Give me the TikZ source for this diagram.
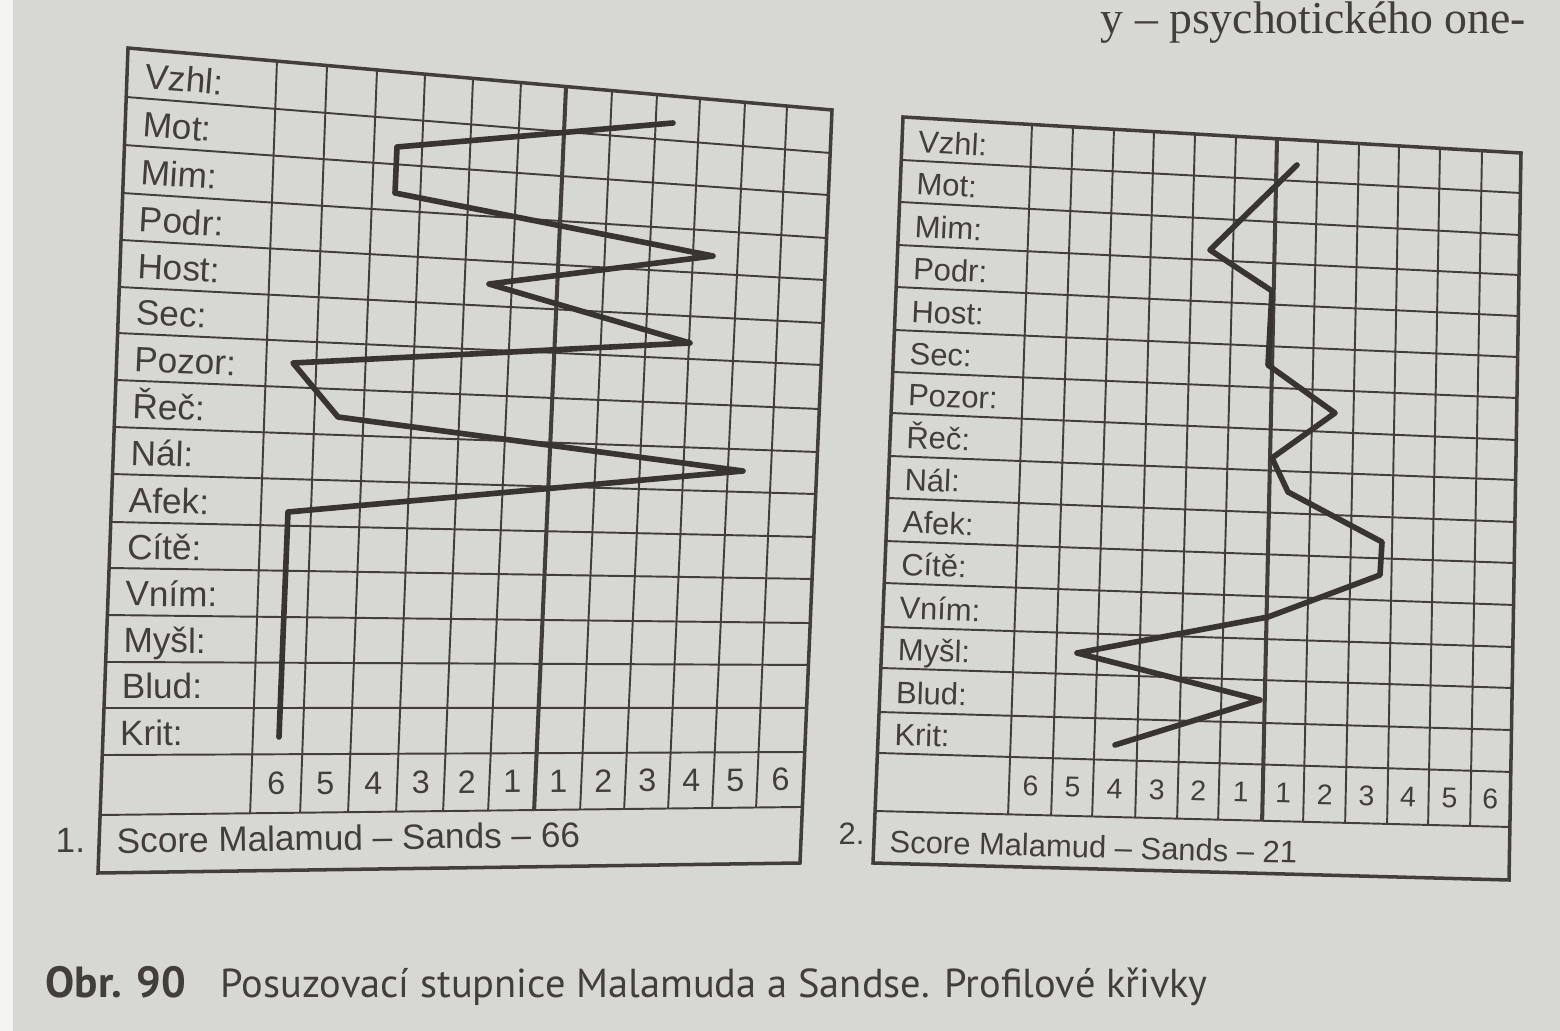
\documentclass[tikz,border=0pt]{standalone}
\usepackage{fontspec}
\setmainfont{Liberation Sans}
\newfontfamily\capfont{PT Sans}
\newfontfamily\bodyserif{Liberation Serif}
\usetikzlibrary{calc}
\definecolor{paper}{RGB}{216,216,210}
\definecolor{paperedge}{RGB}{244,244,242}
\definecolor{ink}{RGB}{66,62,60}
\definecolor{pen}{RGB}{56,52,50}
\begin{document}
\begin{tikzpicture}[x=0.01cm,y=-0.01cm,
  grid/.style={draw=ink, line width=0.55pt},
  frame/.style={draw=ink, line width=1.0pt},
  mid/.style={draw=ink, line width=1.15pt},
  curve/.style={draw=pen, line width=1.6pt, line cap=round, line join=round},
  labA/.style={font=\fontsize{10}{12}\selectfont, text=ink, inner sep=0pt},
  labB/.style={font=\fontsize{8.8}{10.5}\selectfont, text=ink, inner sep=0pt},
  numA/.style={font=\fontsize{9.2}{11}\selectfont, text=ink, inner sep=0pt},
  numB/.style={font=\fontsize{8.1}{10}\selectfont, text=ink, inner sep=0pt},
  capstyle/.style={font=\capfont\fontsize{11.5}{13}\selectfont, text=ink, inner sep=0pt, anchor=base west}
]
\useasboundingbox (0,0) rectangle (1560,1031);
\fill[paper] (0,0) rectangle (1560,1031);
\fill[paperedge] (0,0) rectangle (13,1031);

% ---------------- chart 1 ----------------
\coordinate (atl) at (128,48);
\coordinate (atr) at (832,110);
\coordinate (abr) at (800,863);
\coordinate (abl) at (98,873);
\coordinate (aL0) at (atl); \coordinate (aR0) at (atr);
\foreach \a/\b [count=\j] in {0.0594/0.0571,0.1176/0.1129,0.1758/0.1700,0.2327/0.2258,0.2897/0.2829,0.3455/0.3386,0.4024/0.3971,0.4594/0.4542,0.5164/0.5100,0.5745/0.5670,0.6303/0.6228,0.6873/0.6813,0.7442/0.7370,0.8000/0.7940,0.8570/0.8526,0.9297/0.9256}{
  \coordinate (aL\j) at ($(atl)!\a!(abl)$);
  \coordinate (aR\j) at ($(atr)!\b!(abr)$);
}
\coordinate (aL17) at (abl); \coordinate (aR17) at (abr);
\foreach \t/\n [count=\k from 0] in {0.2116/0.2136,0.2827/0.2848,0.3537/0.3531,0.4219/0.4215,0.4901/0.4884,0.5582/0.5525,0.6222/0.6180,0.6875/0.6835,0.7514/0.7462,0.8125/0.8088,0.8764/0.8715,0.9361/0.9341}{
  \coordinate (aT\k) at ($(atl)!\t!(atr)$);
  \coordinate (aN\k) at ($(aL16)!\n!(aR16)$);
}
\coordinate (aT12) at (atr); \coordinate (aN12) at (aR16);
\foreach \j in {1,...,16} \draw[grid] (aL\j) -- (aR\j);
\foreach \k in {0,...,11} \draw[grid] (aT\k) -- (aN\k);
\draw[mid] (aT6) -- (aN6);
\draw[frame] (atl) -- (atr) -- (abr) -- (abl) -- cycle;

\foreach \txt [count=\j from 0] in {Vzhl:,Mot:,Mim:,Podr:,Host:,Sec:,Pozor:,Řeč:,Nál:,Afek:,Cítě:,Vním:,Myšl:,Blud:,Krit:}{
  \pgfmathtruncatemacro\jj{\j+1}
  \coordinate (p) at ($(aL\j)!0.8!(aL\jj)$);
  \coordinate (q) at ($(aR\j)!0.8!(aR\jj)$);
  \path let \p1=($(q)-(p)$), \n1={atan2(\y1,\x1)} in
    node[labA, anchor=base west, rotate=\n1] (aLab\j) at ($(p)!0.024!(q)$) {\txt};
}
\coordinate (amL) at ($(aL15)!0.5!(aL16)$);
\coordinate (amR) at ($(aR15)!0.5!(aR16)$);
\foreach \num [count=\k from 0] in {6,5,4,3,2,1,1,2,3,4,5,6}{
  \pgfmathtruncatemacro\kk{\k+1}
  \coordinate (cT) at ($(aT\k)!0.5!(aT\kk)$);
  \coordinate (cN) at ($(aN\k)!0.5!(aN\kk)$);
  \path let \p1=($(amR)-(amL)$), \n1={atan2(\y1,\x1)} in
    node[numA, rotate=\n1] (aNum\k) at (intersection of cT--cN and amL--amR) {\num};
}
\coordinate (p) at ($(aL16)!0.66!(aL17)$);
\coordinate (q) at ($(aR16)!0.66!(aR17)$);
\path let \p1=($(q)-(p)$), \n1={atan2(\y1,\x1)} in
  node[labA, anchor=base west, rotate=\n1] (aScore) at ($(p)!0.025!(q)$) {Score Malamud – Sands – 66};
\node[labA, anchor=base west] (aNo) at (55,853) {1.};

\draw[curve] (673,123) -- (397,147) -- (395,193) -- (713,256) -- (489,284)
  -- (690,343) -- (293,363) -- (338,417) -- (743,471) -- (288,512) -- (279,737);

% ---------------- chart 2 ----------------
\coordinate (btl) at (903,117);
\coordinate (btr) at (1521,153);
\coordinate (bbr) at (1509,880);
\coordinate (bbl) at (873,863);
\coordinate (bL0) at (btl); \coordinate (bR0) at (btr);
\foreach \a/\b [count=\j] in {0.0576/0.0550,0.1139/0.1128,0.1716/0.1678,0.2279/0.2242,0.2855/0.2806,0.3418/0.3370,0.3968/0.3948,0.4544/0.4498,0.5107/0.5076,0.5684/0.5640,0.6247/0.6217,0.6836/0.6795,0.7386/0.7359,0.7976/0.7937,0.8525/0.8514,0.9303/0.9271}{
  \coordinate (bL\j) at ($(btl)!\a!(bbl)$);
  \coordinate (bR\j) at ($(btr)!\b!(bbr)$);
}
\coordinate (bL17) at (bbl); \coordinate (bR17) at (bbr);
\foreach \t/\n [count=\k from 0] in {0.2087/0.2095,0.2751/0.2773,0.3414/0.3419,0.4061/0.4097,0.4725/0.4758,0.5388/0.5404,0.6052/0.6097,0.6715/0.6743,0.7379/0.7405,0.8026/0.8066,0.8689/0.8712,0.9369/0.9374}{
  \coordinate (bT\k) at ($(btl)!\t!(btr)$);
  \coordinate (bN\k) at ($(bL16)!\n!(bR16)$);
}
\coordinate (bT12) at (btr); \coordinate (bN12) at (bR16);
\foreach \j in {1,...,16} \draw[grid] (bL\j) -- (bR\j);
\foreach \k in {0,...,11} \draw[grid] (bT\k) -- (bN\k);
\draw[mid] (bT6) -- (bN6);
\draw[frame] (btl) -- (btr) -- (bbr) -- (bbl) -- cycle;

\foreach \txt [count=\j from 0] in {Vzhl:,Mot:,Mim:,Podr:,Host:,Sec:,Pozor:,Řeč:,Nál:,Afek:,Cítě:,Vním:,Myšl:,Blud:,Krit:}{
  \pgfmathtruncatemacro\jj{\j+1}
  \coordinate (p) at ($(bL\j)!0.8!(bL\jj)$);
  \coordinate (q) at ($(bR\j)!0.8!(bR\jj)$);
  \path let \p1=($(q)-(p)$), \n1={atan2(\y1,\x1)} in
    node[labB, anchor=base west, rotate=\n1] (bLab\j) at ($(p)!0.025!(q)$) {\txt};
}
\coordinate (bmL) at ($(bL15)!0.5!(bL16)$);
\coordinate (bmR) at ($(bR15)!0.5!(bR16)$);
\foreach \num [count=\k from 0] in {6,5,4,3,2,1,1,2,3,4,5,6}{
  \pgfmathtruncatemacro\kk{\k+1}
  \coordinate (cT) at ($(bT\k)!0.5!(bT\kk)$);
  \coordinate (cN) at ($(bN\k)!0.5!(bN\kk)$);
  \path let \p1=($(bmR)-(bmL)$), \n1={atan2(\y1,\x1)} in
    node[numB, rotate=\n1] (bNum\k) at (intersection of cT--cN and bmL--bmR) {\num};
}
\coordinate (p) at ($(bL16)!0.79!(bL17)$);
\coordinate (q) at ($(bR16)!0.79!(bR17)$);
\path let \p1=($(q)-(p)$), \n1={atan2(\y1,\x1)} in
  node[labB, anchor=base west, rotate=\n1] (bScore) at ($(p)!0.024!(q)$) {Score Malamud – Sands – 21};
\node[labB, anchor=base west] (bNo) at (838,845) {2.};

\draw[curve] (1297,165) -- (1210,250) -- (1272,291) -- (1268,365) -- (1335,413)
  -- (1272,458) -- (1288,492) -- (1382,542) -- (1380,575) -- (1268,617)
  -- (1077,653) -- (1260,700) -- (1115,745);

% ---------------- caption and top text ----------------
\node[capstyle, font=\capfont\fontsize{12.4}{14}\selectfont] (capnum) at (45,998) {\bfseries Obr. 90};
\node[capstyle] (captxt) at (220,998) {Posuzovací stupnice Malamuda a Sandse. Profilové křivky};
\node[font=\bodyserif\fontsize{13}{15}\selectfont, text=ink, inner sep=0pt, anchor=base west] (toptext) at (1100,34) {y – psychotického one-};
\end{tikzpicture}
\end{document}
